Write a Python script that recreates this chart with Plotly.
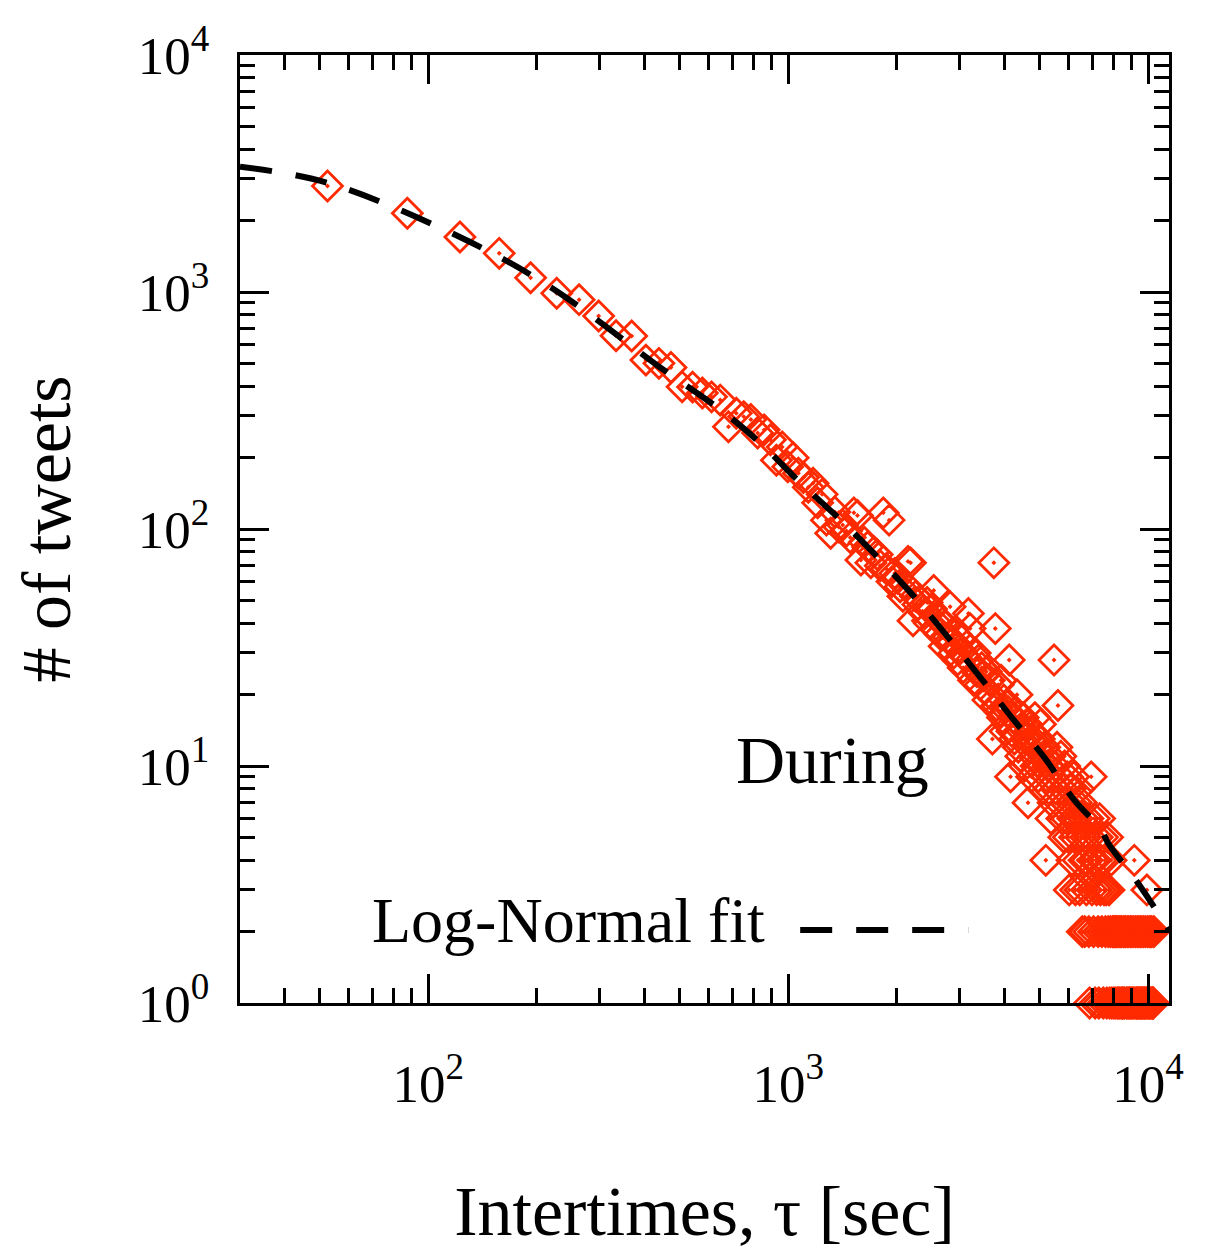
import plotly.graph_objects as go

# ---- data ----
BIN_WIDTH = 35.0  # histogram bin width [sec]; bins centred at (k+0.5)*BIN_WIDTH
counts = [
    2800, 2150, 1706, 1456, 1149, 988, 928, 792, 654, 652,
    516, 500, 480, 398, 397, 375, 361, 350, 270, 308,
    298, 290, 254, 262, 238, 195, 222, 183, 200, 172,
    165, 150, 156, 129, 140, 109, 96, 118, 102, 104,
    98, 92, 117, 114, 74, 88, 84, 72, 80, 78,
    70, 117, 68, 109, 60, 65, 62, 57, 52, 58,
    73, 72, 41, 52, 48, 50, 45, 44, 49, 40,
    46, 55, 38, 42, 36, 40, 32, 39, 35, 47,
    33, 30, 36, 28, 31, 34, 26, 29, 32, 44,
    38, 27, 23, 30, 25, 28, 22, 26, 24, 21,
    25, 19, 23, 20, 13, 72, 38, 18, 22, 17,
    23, 16, 19, 14, 18, 17, 28, 9, 14, 16,
    13, 17, 20, 12, 15, 11, 14, 16, 10, 13,
    15, 7, 12, 14, 9, 13, 11, 16, 10, 12,
    9, 13, 15, 10, 8, 11, 12, 4, 9, 10,
    8, 11, 6, 9, 7, 28, 10, 8, 12, 18,
    7, 9, 11, 6, 8, 5, 10, 7, 6, 9,
    5, 3, 8, 7, 4, 6, 9, 5, 3, 7,
    6, 4, 8, 3, 5, 7, 2, 6, 4, 2,
    5, 3, 4, 6, 2, 1, 5, 9, 3, 4,
    2, 6, 1, 4, 3, 5, 2, 1, 6, 3,
    4, 2, 5, 1, 3, 4, 2, 3, 1, 5,
    2, 3, 1, 2, 4, 1, 2, 2, 1, 2,
    1, 2, 2, 1, 2, 1, 2, 1, 2, 1,
    2, 1, 1, 2, 1, 2, 2, 1, 1, 2,
    1, 2, 1, 1, 2, 1, 2, 1, 1, 2,
    4, 1, 2, 1, 1, 2, 1, 1, 2, 1,
    2, 1, 1, 2, 1, 1, 2, 1, 1, 2,
    1, 1, 3, 2, 1, 1, 2, 1, 1, 2,
    1, 2, 1, 1, 1, 2,
]
bin_index = list(range(1, len(counts) + 1))
tau = [BIN_WIDTH * (k + 0.5) for k in bin_index]

# log-normal fit curve
fit_tau = [30, 52.6, 122, 218, 451, 649, 838, 1061, 1427, 1729, 2234,
           2778, 3430, 4238, 5140, 6225, 7396, 7740, 9380, 11430]
fit_cnt = [3380, 2884, 1710, 1052, 469, 318, 230, 161, 106, 79, 52,
           35, 23.5, 15.6, 10.9, 7.2, 5.4, 4.73, 3.2, 2.03]

x_ticks = [1e2, 1e3, 1e4]
x_ticktext = ["10<sup>2</sup>", "10<sup>3</sup>", "10<sup>4</sup>"]
y_ticks = [1, 10, 100, 1000, 10000]
y_ticktext = ["10<sup>0</sup>", "10<sup>1</sup>", "10<sup>2</sup>",
              "10<sup>3</sup>", "10<sup>4</sup>"]
x_minor = [40, 50, 60, 70, 80, 90,
           200, 300, 400, 500, 600, 700, 800, 900,
           2000, 3000, 4000, 5000, 6000, 7000, 8000, 9000]
y_minor = [m * d for d in (1, 10, 100, 1000) for m in (2, 3, 4, 5, 6, 7, 8, 9)]

RED = "#ff2a00"
FONT = "Liberation Serif"

fig = go.Figure()
fig.add_trace(go.Scatter(
    x=tau, y=counts, mode="markers", cliponaxis=False,
    marker=dict(symbol="diamond-open-dot", size=23, color=RED,
                line=dict(color=RED, width=2.8)),
    showlegend=False))
fig.add_trace(go.Scatter(
    x=fit_tau, y=fit_cnt, mode="lines", line_shape="spline",
    line=dict(color="black", width=6, dash="32px,24px"),
    showlegend=False, hoverinfo="skip"))

axis_common = dict(
    type="log", showgrid=False, zeroline=False,
    showline=True, linecolor="black", linewidth=3, mirror="ticks",
    ticks="inside", ticklen=29, tickwidth=3, tickcolor="black",
    tickfont=dict(family=FONT, size=53, color="black"),
)

fig.update_xaxes(**axis_common, range=[1.4771, 4.058],
                 tickmode="array", tickvals=x_ticks, ticktext=x_ticktext,
                 minor=dict(ticks="inside", ticklen=15, tickwidth=3, tickcolor="black",
                            tickmode="array", tickvals=x_minor, showgrid=False),
                 ticklabelstandoff=32,
                 title=dict(text="Intertimes, τ [sec]", standoff=75,
                            font=dict(family=FONT, size=70, color="black")))
fig.update_yaxes(**axis_common, range=[0, 4],
                 tickmode="array", tickvals=y_ticks, ticktext=y_ticktext,
                 minor=dict(ticks="inside", ticklen=15, tickwidth=3, tickcolor="black",
                            tickmode="array", tickvals=y_minor, showgrid=False),
                 ticklabelstandoff=17,
                 title=dict(text="# of tweets", standoff=52,
                            font=dict(family=FONT, size=70, color="black")))

fig.add_annotation(x=0.638, y=0.2145, xref="paper", yref="paper",
                   text="During", showarrow=False,
                   font=dict(family=FONT, size=68, color="black"))
fig.add_annotation(x=0.567, y=0.047, xref="paper", yref="paper",
                   xanchor="right", text="Log-Normal fit", showarrow=False,
                   font=dict(family=FONT, size=64, color="black"))
fig.add_shape(type="line", xref="paper", yref="paper",
              x0=0.603, x1=0.784, y0=0.077, y1=0.077,
              line=dict(color="black", width=6, dash="32px,24px"))

# page body adds an 8px margin, so the figure is shifted by -8px here
fig.update_layout(
    width=1209, height=1242,
    margin=dict(l=232, r=48, t=47, b=247, autoexpand=False),
    plot_bgcolor="white", paper_bgcolor="white",
    font=dict(family=FONT, color="black"),
)

fig.write_html("out.html")
